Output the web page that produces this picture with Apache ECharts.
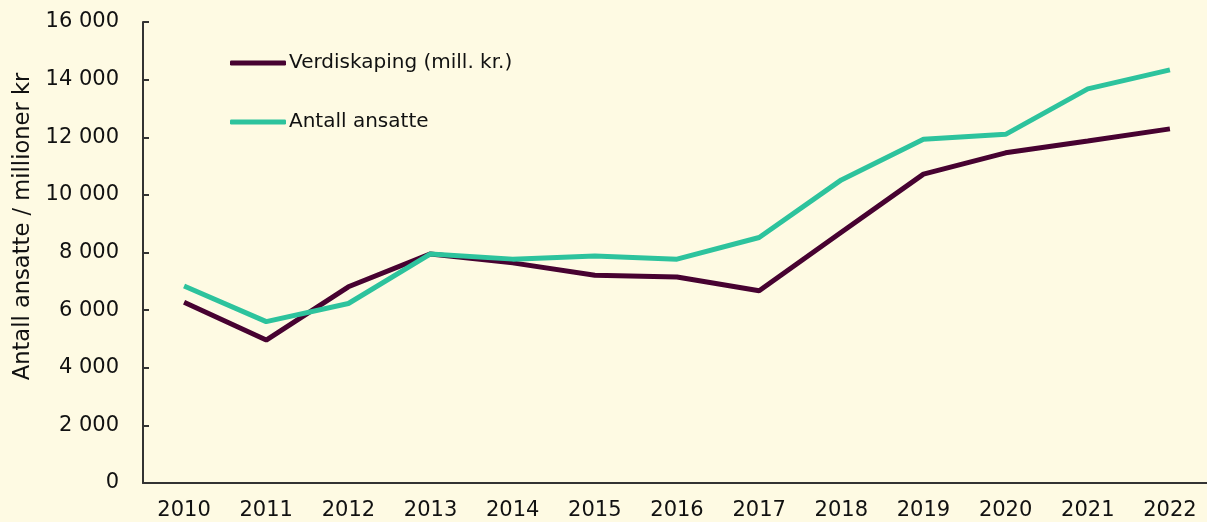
<!DOCTYPE html>
<html>
<head>
<meta charset="utf-8">
<script src="https://cdn.jsdelivr.net/npm/echarts@6/dist/echarts.min.js"></script>
<style>
html,body{margin:0;padding:0;background:#FEFAE3;}
#c{width:1207px;height:522px;}
</style>
</head>
<body>
<div id="c"></div>
<script>
const years = ['2010','2011','2012','2013','2014','2015','2016','2017','2018','2019','2020','2021','2022'];
const verdiskaping = [6270, 4960, 6810, 7950, 7640, 7210, 7150, 6670, 8700, 10720, 11460, 11870, 12290];
const ansatte = [6840, 5600, 6230, 7950, 7770, 7880, 7770, 8520, 10520, 11930, 12100, 13680, 14340];
const seriesNames = ['Verdiskaping (mill. kr.)', 'Antall ansatte'];
const yTicks = {min: 0, max: 16000, interval: 2000};

const fmt = v => String(v).replace(/\B(?=(\d{3})+(?!\d))/g, ' ');
const chart = echarts.init(document.getElementById('c'));
const font = '"DejaVu Sans", sans-serif';
chart.setOption({
  backgroundColor: '#FEFAE3',
  animation: false,
  textStyle: {fontFamily: font},
  grid: {left: 143, top: 22, width: 1068, bottom: 39, containLabel: false, outerBoundsMode: 'none'},
  legend: {
    orient: 'vertical', left: 225, top: 48, itemGap: 39,
    itemWidth: 56, itemHeight: 5,
    icon: 'roundRect',
    textStyle: {fontSize: 20, lineHeight: 20, color: '#111', fontFamily: font, padding: [0,0,0,-2]},
    data: seriesNames
  },
  xAxis: {
    type: 'category', data: years, boundaryGap: true,
    axisLine: {lineStyle: {color: '#333', width: 2}},
    axisTick: {show: false},
    axisLabel: {fontSize: 21, color: '#111', margin: 17, fontFamily: font}
  },
  yAxis: {
    type: 'value', min: yTicks.min, max: yTicks.max, interval: yTicks.interval,
    name: 'Antall ansatte / millioner kr', nameLocation: 'middle', nameGap: 107,
    nameTextStyle: {fontSize: 22.6, color: '#111', fontFamily: font, padding: [0,0,0,52]},
    axisLine: {show: true, lineStyle: {color: '#333', width: 2}},
    axisTick: {show: true, inside: true, length: 6, lineStyle: {color: '#333', width: 2}},
    splitLine: {show: false},
    axisLabel: {fontSize: 21, color: '#111', margin: 24, formatter: fmt, fontFamily: font}
  },
  series: [
    {name: seriesNames[0], type: 'line', data: verdiskaping, symbol: 'none',
     lineStyle: {color: '#470231', width: 5}, itemStyle: {color: '#470231'}, z: 2},
    {name: seriesNames[1], type: 'line', data: ansatte, symbol: 'none',
     lineStyle: {color: '#2DC39D', width: 5}, itemStyle: {color: '#2DC39D'}, z: 3}
  ]
});
</script>
</body>
</html>
